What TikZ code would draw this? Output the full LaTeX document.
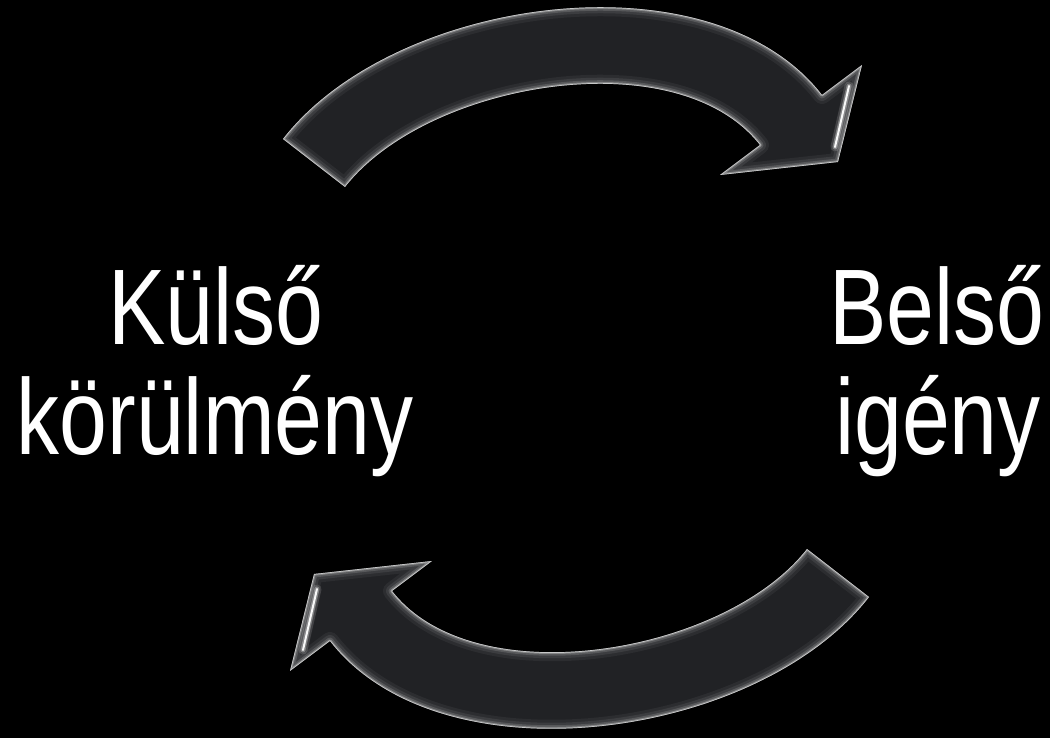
\documentclass[tikz,border=0pt]{standalone}
\usepackage{fontspec}
\newfontfamily\narrowsans[FakeStretch=0.8]{Liberation Sans}
\definecolor{arrowgray}{RGB}{33,34,37}
\tikzset{
  label/.style={text=white, inner sep=0pt, anchor=base, font=\narrowsans\fontsize{107.5}{110}\selectfont},
  glow/.style={draw=white, line join=round, line width=#1},
}
\newcommand{\arrowshape}{(283,599) .. controls (394,742) and (711,786) .. (822,643) -- (862,673) -- (838,576) -- (720,563) -- (760,593) .. controls (677.5,698.6) and (427.5,656.6) .. (345,551) -- cycle}
\newcommand{\cyclearrow}{%
  \fill[arrowgray] \arrowshape;
  \begin{scope}
    \clip \arrowshape;
    \path[glow=18, opacity=0.05] \arrowshape;
    \path[glow=12, opacity=0.08] \arrowshape;
    \path[glow=7, opacity=0.14] \arrowshape;
    \path[glow=3.5, opacity=0.28] \arrowshape;
    \path[glow=1.4, opacity=0.55] \arrowshape;
    \draw[white, opacity=0.15, line width=9, line cap=round] (849,652) -- (835,591);
    \draw[white, opacity=0.3, line width=5, line cap=round] (849,652) -- (835,591);
    \draw[white, opacity=0.95, line width=2, line cap=round] (849,652) -- (835,591);
  \end{scope}
}
\begin{document}
\begin{tikzpicture}[x=1pt,y=1pt]
  \fill[black] (0,0) rectangle (1050,738);
  \useasboundingbox (0,0) rectangle (1050,738);
  \cyclearrow
  \begin{scope}[rotate around={180:(576,370)}]
    \cyclearrow
  \end{scope}
  \node[label] (k1) at (216,393) {Külső};
  \node[label] (k2) at (215,283) {körülmény};
  \node[label] (b1) at (937,393) {Belső};
  \node[label] (b2) at (938,283) {igény};
\end{tikzpicture}
\end{document}
